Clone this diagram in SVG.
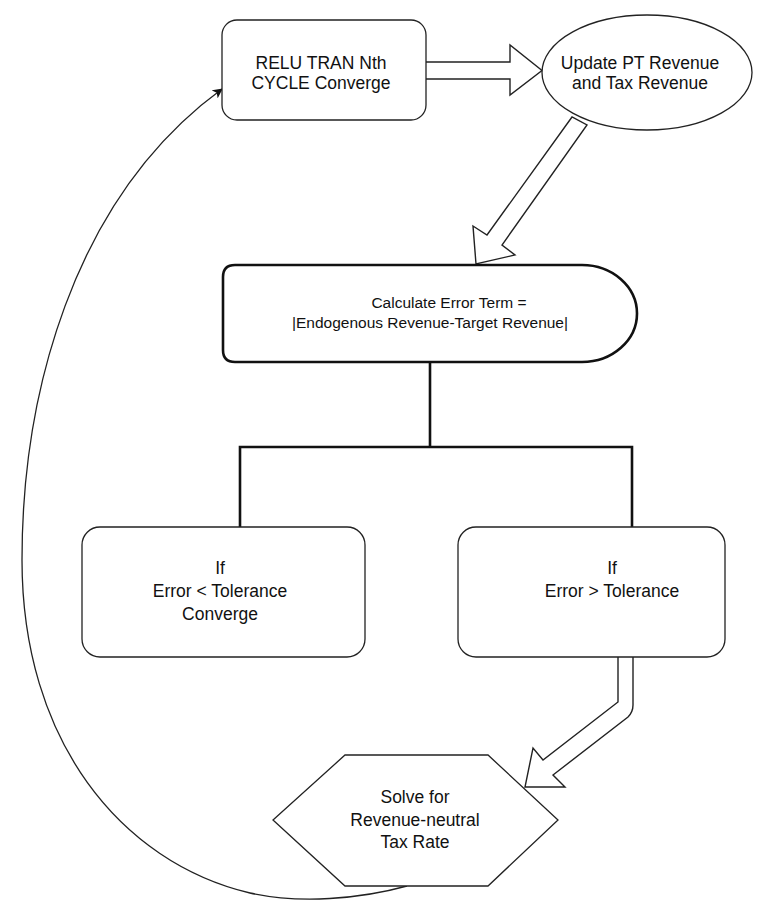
<svg xmlns="http://www.w3.org/2000/svg" width="767" height="905" viewBox="0 0 767 905">
<defs>
<style>
.n{fill:#fff;stroke:#222;stroke-width:1.3}
.thick{fill:#fff;stroke:#111;stroke-width:2.6}
.ba{fill:#fff;stroke:#222;stroke-width:1.4;stroke-linejoin:miter}
.ln{fill:none;stroke:#111;stroke-width:2.6}
.cv{fill:none;stroke:#222;stroke-width:1.3}
text{font-family:"Liberation Sans",Arial,sans-serif;font-size:17.5px;fill:#111;text-anchor:middle}
.sm{font-size:15.5px}
</style>
<marker id="ah" viewBox="0 0 10 10" refX="9" refY="5" markerWidth="10" markerHeight="10" markerUnits="userSpaceOnUse" orient="auto">
<path d="M0,0 L10,5 L0,10 L2.5,5 Z" fill="#111"/>
</marker>
</defs>
<g id="connectors">
<polygon class="ba" points="424,62 510,62 510,45 542,70.5 510,95 510,79 424,79"/>
<polygon class="ba" points="572,117 487,235 473,226 476,264 515,255 502,245 587,125"/>
<path class="ba" d="M618,657 V702 L543,760 L533,748 L525,787 L565,787 L553,775 L628,717 Q633,712 633,705 V657"/>
<path class="ln" d="M430,362 V447 M240,527 V447 H632 V527"/>
<path class="cv" marker-end="url(#ah)" d="M407,886 C360,899 300,904 250,893 C120,862 22,740 22,560 C22,400 70,200 222,89"/>
</g>
<g id="relu">
<rect class="n" x="222" y="20" width="204" height="100" rx="15"/>
<text x="321" y="69">RELU TRAN Nth</text>
<text x="321" y="89">CYCLE Converge</text>
</g>
<g id="update">
<ellipse class="n" cx="647" cy="72.5" rx="105" ry="57.5"/>
<text x="640" y="69">Update PT Revenue</text>
<text x="640" y="89">and Tax Revenue</text>
</g>
<g id="calc">
<path class="thick" d="M235,265 H582 A55,48.5 0 0 1 582,362 H235 Q223,362 223,350 V277 Q223,265 235,265 Z"/>
<text class="sm" x="449" y="308">Calculate Error Term =</text>
<text class="sm" x="430" y="328">|Endogenous Revenue-Target Revenue|</text>
</g>
<g id="lt">
<rect class="n" x="82" y="527" width="283" height="130" rx="18"/>
<text x="220" y="574">If</text>
<text x="220" y="597">Error &lt; Tolerance</text>
<text x="220" y="620">Converge</text>
</g>
<g id="gt">
<rect class="n" x="458" y="527" width="267" height="130" rx="18"/>
<text x="612" y="574">If</text>
<text x="612" y="597">Error &gt; Tolerance</text>
</g>
<g id="solve">
<polygon class="n" points="345,755 488,755 558,820 488,886 345,886 273,820"/>
<text x="415" y="803">Solve for</text>
<text x="415" y="826">Revenue-neutral</text>
<text x="415" y="848">Tax Rate</text>
</g>
</svg>
